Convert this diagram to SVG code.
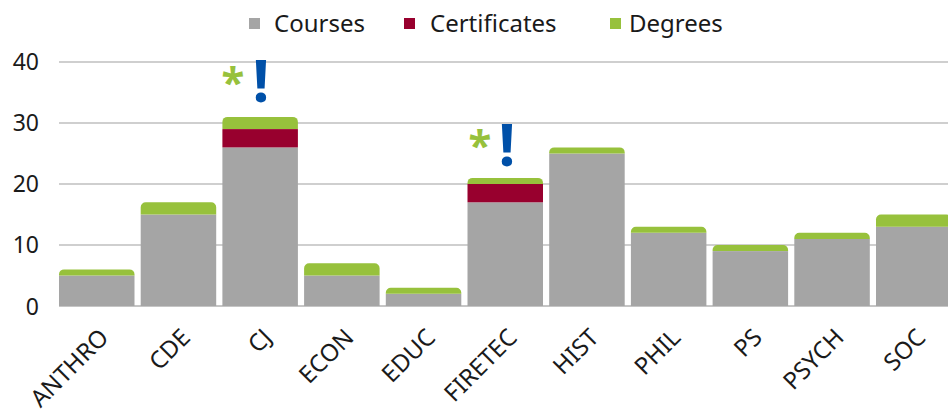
<svg xmlns="http://www.w3.org/2000/svg" width="948" height="413" viewBox="0 0 948 413">
<style>
.t{font-family:"Noto Sans","Open Sans","Liberation Sans",sans-serif;fill:#1a1a1a}
.lg{font-size:24px}
.ya{font-size:23px;text-anchor:end}
.xa{font-size:24px;text-anchor:end}
.grid{stroke:#BFBFBF;stroke-width:1.5}
.c{fill:#A5A5A5}
.r{fill:#98002E}
.g{fill:#97C13C}
.bang{font-family:"Noto Sans","Liberation Sans",sans-serif;font-weight:bold;fill:#0050A8;font-size:60px;text-anchor:middle}
.star{font-family:"Noto Sans","Liberation Sans",sans-serif;font-weight:bold;fill:#97C13C;font-size:42px;text-anchor:middle}
</style>
<rect width="948" height="413" fill="#fff"/>
<g id="legend">
<rect x="249" y="18" width="11" height="11" class="c"/>
<text x="274" y="32" class="t lg">Courses</text>
<rect x="404" y="18" width="11" height="11" class="r"/>
<text x="430" y="32" class="t lg">Certificates</text>
<rect x="610" y="18" width="11" height="11" class="g"/>
<text x="629" y="32" class="t lg">Degrees</text>
</g>
<g id="gridlines">
<line x1="59" y1="62" x2="948" y2="62" class="grid"/>
<line x1="59" y1="123" x2="948" y2="123" class="grid"/>
<line x1="59" y1="184" x2="948" y2="184" class="grid"/>
<line x1="59" y1="245" x2="948" y2="245" class="grid"/>
<line x1="59" y1="306" x2="948" y2="306" stroke="#8C8C8C" stroke-width="1"/>
</g>
<g id="y-axis">
<text x="39" y="70" class="t ya">40</text>
<text x="39" y="131" class="t ya">30</text>
<text x="39" y="192" class="t ya">20</text>
<text x="39" y="253" class="t ya">10</text>
<text x="39" y="315" class="t ya">0</text>
</g>
<g id="bar-ANTHRO">
<rect x="59" y="275.5" width="75.5" height="30.5" class="c"/>
<path d="M59 275.5V274.4A5 5 0 0 1 64 269.4H129.5A5 5 0 0 1 134.5 274.4V275.5Z" class="g"/>
</g>
<g id="bar-CDE">
<rect x="140.7" y="214.5" width="75.5" height="91.5" class="c"/>
<path d="M140.7 214.5V207.3A5 5 0 0 1 145.7 202.3H211.2A5 5 0 0 1 216.2 207.3V214.5Z" class="g"/>
</g>
<g id="bar-CJ">
<rect x="222.4" y="147.4" width="75.5" height="158.6" class="c"/>
<rect x="222.4" y="129.1" width="75.5" height="18.3" class="r"/>
<path d="M222.4 129.1V121.9A5 5 0 0 1 227.4 116.9H292.9A5 5 0 0 1 297.9 121.9V129.1Z" class="g"/>
</g>
<g id="bar-ECON">
<rect x="304.1" y="275.5" width="75.5" height="30.5" class="c"/>
<path d="M304.1 275.5V268.3A5 5 0 0 1 309.1 263.3H374.6A5 5 0 0 1 379.6 268.3V275.5Z" class="g"/>
</g>
<g id="bar-EDUC">
<rect x="385.8" y="293.8" width="75.5" height="12.2" class="c"/>
<path d="M385.8 293.8V292.7A5 5 0 0 1 390.8 287.7H456.3A5 5 0 0 1 461.3 292.7V293.8Z" class="g"/>
</g>
<g id="bar-FIRETEC">
<rect x="467.5" y="202.3" width="75.5" height="103.7" class="c"/>
<rect x="467.5" y="184" width="75.5" height="18.3" class="r"/>
<path d="M467.5 184V182.9A5 5 0 0 1 472.5 177.9H538A5 5 0 0 1 543 182.9V184Z" class="g"/>
</g>
<g id="bar-HIST">
<rect x="549.2" y="153.5" width="75.5" height="152.5" class="c"/>
<path d="M549.2 153.5V152.4A5 5 0 0 1 554.2 147.4H619.7A5 5 0 0 1 624.7 152.4V153.5Z" class="g"/>
</g>
<g id="bar-PHIL">
<rect x="630.9" y="232.8" width="75.5" height="73.2" class="c"/>
<path d="M630.9 232.8V231.7A5 5 0 0 1 635.9 226.7H701.4A5 5 0 0 1 706.4 231.7V232.8Z" class="g"/>
</g>
<g id="bar-PS">
<rect x="712.6" y="251.1" width="75.5" height="54.9" class="c"/>
<path d="M712.6 251.1V250A5 5 0 0 1 717.6 245H783.1A5 5 0 0 1 788.1 250V251.1Z" class="g"/>
</g>
<g id="bar-PSYCH">
<rect x="794.3" y="238.9" width="75.5" height="67.1" class="c"/>
<path d="M794.3 238.9V237.8A5 5 0 0 1 799.3 232.8H864.8A5 5 0 0 1 869.8 237.8V238.9Z" class="g"/>
</g>
<g id="bar-SOC">
<rect x="876" y="226.7" width="75.5" height="79.3" class="c"/>
<path d="M876 226.7V219.5A5 5 0 0 1 881 214.5H946.5A5 5 0 0 1 951.5 219.5V226.7Z" class="g"/>
</g>
<g id="x-axis">
<text transform="translate(110,339) rotate(-45)" class="t xa">ANTHRO</text>
<text transform="translate(191.7,339) rotate(-45)" class="t xa">CDE</text>
<text transform="translate(273.4,339) rotate(-45)" class="t xa">CJ</text>
<text transform="translate(355.1,339) rotate(-45)" class="t xa">ECON</text>
<text transform="translate(436.8,339) rotate(-45)" class="t xa">EDUC</text>
<text transform="translate(518.5,339) rotate(-45)" class="t xa">FIRETEC</text>
<text transform="translate(600.2,339) rotate(-45)" class="t xa">HIST</text>
<text transform="translate(681.9,339) rotate(-45)" class="t xa">PHIL</text>
<text transform="translate(763.6,339) rotate(-45)" class="t xa">PS</text>
<text transform="translate(845.3,339) rotate(-45)" class="t xa">PSYCH</text>
<text transform="translate(927,339) rotate(-45)" class="t xa">SOC</text>
</g>
<g id="marks-CJ">
<text x="233" y="97" class="star">*</text>
<text x="261" y="102" class="bang">!</text>
</g>
<g id="marks-FIRETEC">
<text x="480" y="160" class="star">*</text>
<text x="507" y="166" class="bang">!</text>
</g>
</svg>
